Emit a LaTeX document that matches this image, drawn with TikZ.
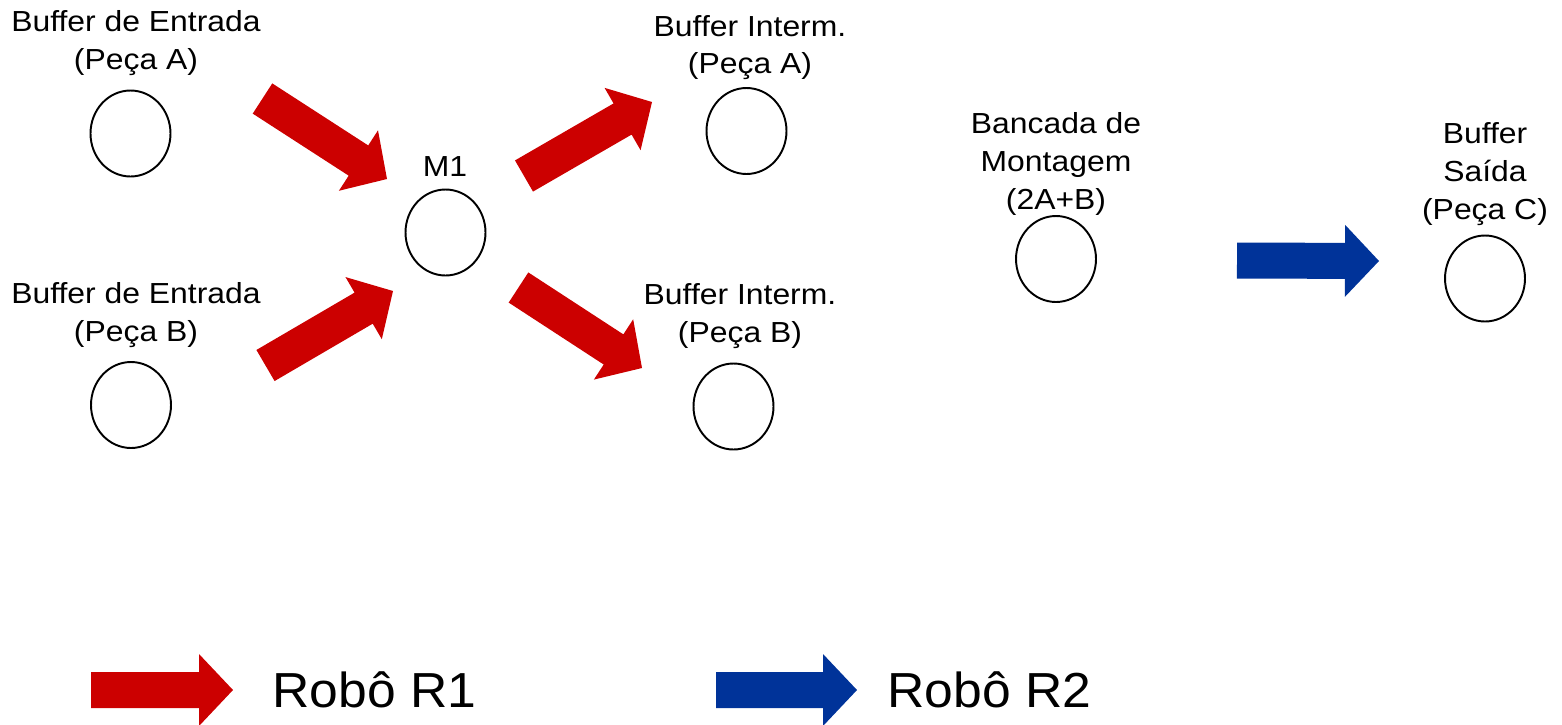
\documentclass[tikz,border=0pt]{standalone}
\usepackage{fontspec}
\setmainfont{Liberation Sans}[FakeStretch=1.1]
\newfontfamily\legendfont{Liberation Sans}[FakeStretch=1.05]
\usepackage{tikz}
\usetikzlibrary{calc,shapes.geometric}

\definecolor{robotred}{RGB}{204,0,0}
\definecolor{robotblue}{RGB}{0,51,153}

% block arrow: colour, tail, tip
\newcommand{\blockarrow}[3]{%
  \coordinate (#2h) at ($(#3)!0.68cm!(#2)$);
  \fill[#1] ($(#2)!0.36cm!90:(#3)$) -- ($(#2h)!0.36cm!-90:(#2)$) -- ($(#2h)!0.72cm!-90:(#2)$)
    -- (#3) -- ($(#2h)!0.72cm!90:(#2)$) -- ($(#2h)!0.36cm!90:(#2)$) -- ($(#2)!0.36cm!-90:(#3)$) -- cycle;
}

\begin{document}
\begin{tikzpicture}[x=0.02cm, y=-0.02cm,
  buf/.style={draw, line width=1.1pt, ellipse, inner sep=0pt, minimum width=1.6cm, minimum height=1.72cm},
  lbl/.style={align=center, inner sep=0pt, font=\fontsize{16.5}{21.5}\selectfont},
  leg/.style={anchor=west, inner sep=0pt, font=\legendfont\fontsize{28}{30}\selectfont}]
\useasboundingbox (0,0) rectangle (1562,724);

% stations
\node[buf] (ea) at (130.5,133.5) {};
\node[buf] (eb) at (131,405) {};
\node[buf] (m1) at (445.5,232.5) {};
\node[buf] (ia) at (746.5,131) {};
\node[buf] (ib) at (733.5,406.5) {};
\node[buf] (bm) at (1056,259) {};
\node[buf] (bs) at (1485,278.5) {};

% labels
\node[lbl] (tea) at (136,43) {Buffer de Entrada\\(Peça A)};
\node[lbl] (teb) at (136,315) {Buffer de Entrada\\(Peça B)};
\node[lbl] (tm1) at (445,167) {M1};
\node[lbl] (tia) at (750,47.5) {Buffer Interm.\\(Peça A)};
\node[lbl] (tib) at (740,316) {Buffer Interm.\\(Peça B)};
\node[lbl] (tbm) at (1056,164) {Bancada de\\Montagem\\(2A+B)};
\node[lbl] (tbs) at (1485,174) {Buffer\\Saída\\(Peça C)};

% robot moves
\coordinate (r1a) at (262.5,98.5);  \coordinate (r1b) at (387,179);
\coordinate (r2a) at (265.5,365.5); \coordinate (r2b) at (393,291);
\coordinate (r3a) at (524,176);     \coordinate (r3b) at (652,102);
\coordinate (r4a) at (518.5,287.5); \coordinate (r4b) at (642,368);
\coordinate (r5a) at (1237,260.5);  \coordinate (r5b) at (1379,261);
\blockarrow{robotred}{r1a}{r1b}
\blockarrow{robotred}{r2a}{r2b}
\blockarrow{robotred}{r3a}{r3b}
\blockarrow{robotred}{r4a}{r4b}
\blockarrow{robotblue}{r5a}{r5b}

% legend
\coordinate (la) at (91,690);  \coordinate (lb) at (233,690);
\coordinate (lc) at (716,690); \coordinate (ld) at (857,690);
\blockarrow{robotred}{la}{lb}
\blockarrow{robotblue}{lc}{ld}
\node[leg] (lr1) at (272,690) {Robô R1};
\node[leg] (lr2) at (887,690) {Robô R2};
\end{tikzpicture}
\end{document}
